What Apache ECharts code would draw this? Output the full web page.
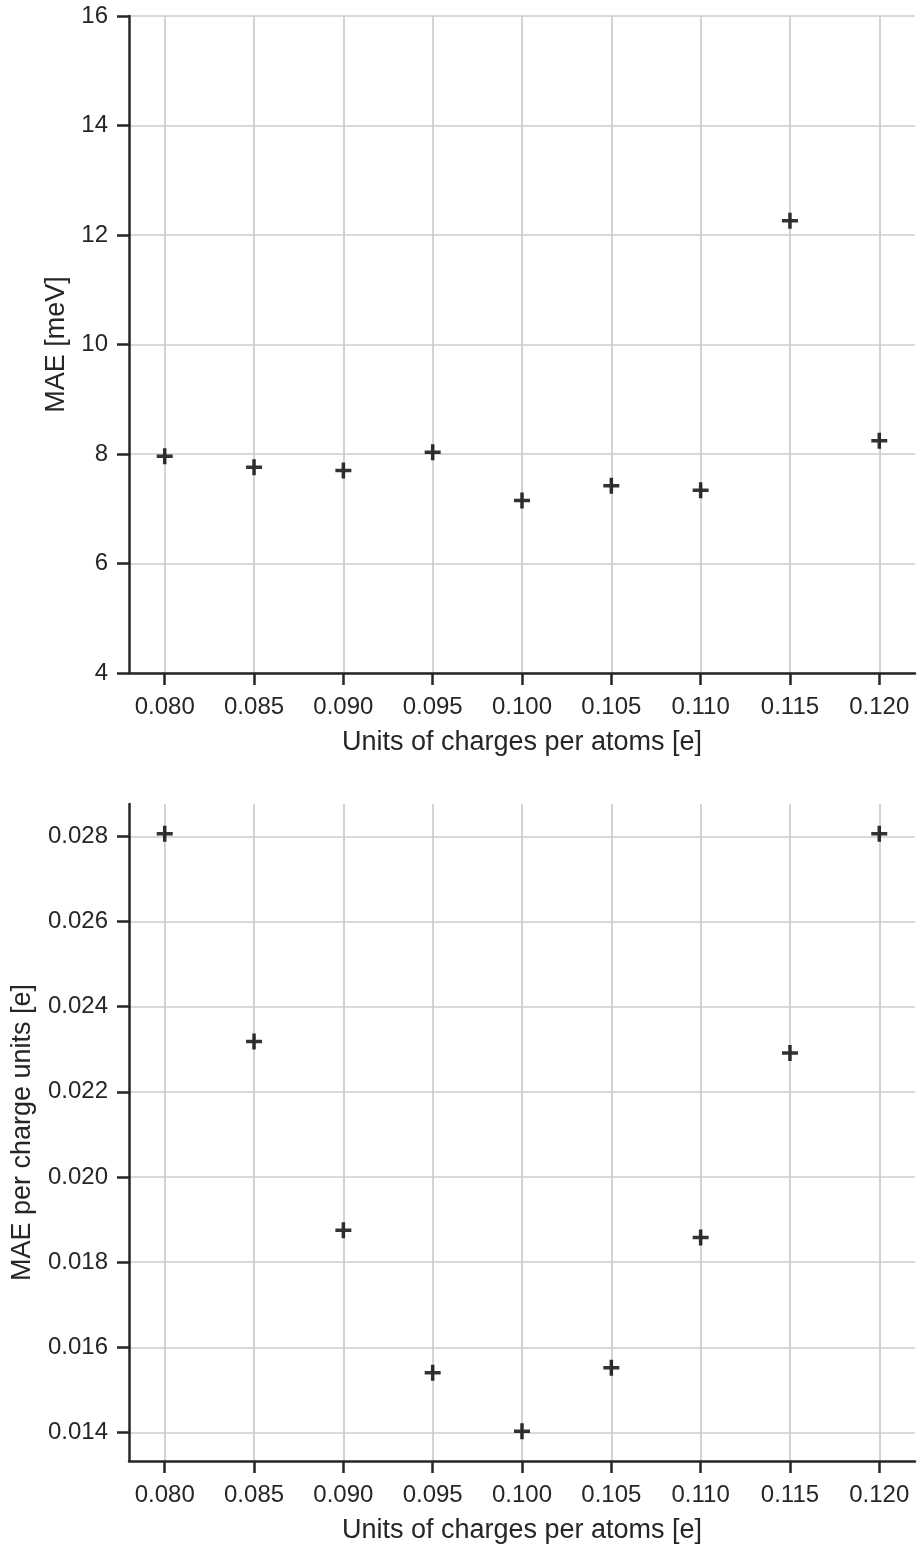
<!DOCTYPE html>
<html><head><meta charset="utf-8">
<script src="https://cdn.jsdelivr.net/npm/echarts@6/dist/echarts.min.js"></script>
<style>html,body{margin:0;padding:0;background:#fff}#c{width:917px;height:1545px}</style>
</head><body><div id="c"></div>
<script>
// ---- data ----
const charges = [0.080, 0.085, 0.090, 0.095, 0.100, 0.105, 0.110, 0.115, 0.120];
const maeMeV = [7.96, 7.76, 7.70, 8.03, 7.15, 7.42, 7.34, 12.26, 8.24];
const maePerCharge = [0.02806, 0.02318, 0.01875, 0.01540, 0.01403, 0.01552, 0.01858, 0.02291, 0.02806];
const xTicks = [0.080, 0.085, 0.090, 0.095, 0.100, 0.105, 0.110, 0.115, 0.120];
const yTopTicks = [4, 6, 8, 10, 12, 14, 16];
const yBottomTicks = [0.014, 0.016, 0.018, 0.020, 0.022, 0.024, 0.026, 0.028];
const xName = 'Units of charges per atoms [e]';
const yTopName = 'MAE [meV]';
const yBottomName = 'MAE per charge units [e]';

// ---- style ----
const FONT = '"Liberation Sans", Arial, Helvetica, sans-serif';
const INK = '#262626';
const GRIDC = '#cccccc';
const PLUS = 'path://M3.9,0H6.1V3.9H10V6.1H6.1V10H3.9V6.1H0V3.9H3.9Z';

function margins(arr, frac) {
  const lo = Math.min(...arr), hi = Math.max(...arr), s = hi - lo;
  return [lo - s * frac, hi + s * frac];
}
const [xMin, xMax] = margins(charges, 0.05);
const [ybMin, ybMax] = margins(maePerCharge, 0.05);

function xAxis(gi) {
  return {
    type: 'value', gridIndex: gi, min: xMin, max: xMax,
    name: xName, nameLocation: 'middle', nameGap: 56,
    nameTextStyle: { fontFamily: FONT, fontSize: 27, color: INK },
    axisLine: { show: true, onZero: false, lineStyle: { color: INK, width: 2.5 } },
    axisTick: { show: true, length: 12, lineStyle: { color: INK, width: 2.5 }, customValues: xTicks },
    axisLabel: { customValues: xTicks, margin: 22, fontFamily: FONT, fontSize: 24, color: INK,
      formatter: v => v.toFixed(3) },
    splitLine: { show: true, lineStyle: { color: GRIDC, width: 1.7 } }
  };
}
function yAxis(gi, min, max, ticks, name, gap, fmt) {
  return {
    type: 'value', gridIndex: gi, min: min, max: max,
    name: name, nameLocation: 'middle', nameGap: gap,
    nameTextStyle: { fontFamily: FONT, fontSize: 27, color: INK },
    axisLine: { show: true, onZero: false, lineStyle: { color: INK, width: 2.5 } },
    axisTick: { show: true, length: 12, lineStyle: { color: INK, width: 2.5 }, customValues: ticks },
    axisLabel: { customValues: ticks, margin: 21, fontFamily: FONT, fontSize: 24, color: INK, formatter: fmt },
    splitLine: { show: true, lineStyle: { color: GRIDC, width: 1.7 } }
  };
}

const chart = echarts.init(document.getElementById('c'), null, { renderer: 'canvas' });
chart.setOption({
  animation: false,
  backgroundColor: '#ffffff',
  grid: [
    { left: 129, top: 16, width: 786, height: 657, containLabel: false },
    { left: 129, top: 804, width: 786, height: 657, containLabel: false }
  ],
  xAxis: [xAxis(0), xAxis(1)],
  yAxis: [
    yAxis(0, 4, 16, yTopTicks, yTopName, 52, v => String(Math.round(v))),
    yAxis(1, ybMin, ybMax, yBottomTicks, yBottomName, 93, v => v.toFixed(3))
  ],
  series: [
    { type: 'scatter', xAxisIndex: 0, yAxisIndex: 0, symbol: PLUS, symbolSize: 16,
      itemStyle: { color: '#000' }, data: charges.map((c, i) => [c, maeMeV[i]]) },
    { type: 'scatter', xAxisIndex: 1, yAxisIndex: 1, symbol: PLUS, symbolSize: 16,
      itemStyle: { color: '#000' }, data: charges.map((c, i) => [c, maePerCharge[i]]) }
  ]
});
</script></body></html>
